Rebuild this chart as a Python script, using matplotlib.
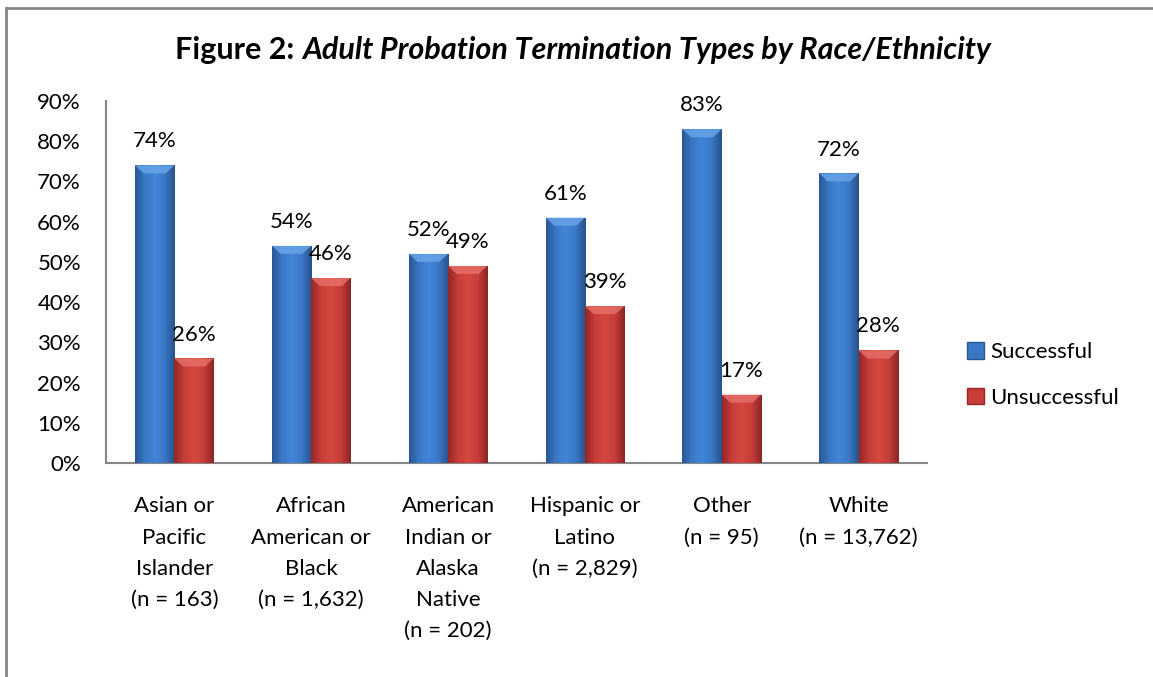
import matplotlib.pyplot as plt
import numpy as np
from matplotlib.patches import Patch, Polygon
from matplotlib.colors import LinearSegmentedColormap

# data
categories = ["Asian or\nPacific\nIslander\n(n = 163)",
              "African\nAmerican or\nBlack\n(n = 1,632)",
              "American\nIndian or\nAlaska\nNative\n(n = 202)",
              "Hispanic or\nLatino\n(n = 2,829)",
              "Other\n(n = 95)",
              "White\n(n = 13,762)"]
successful = [74, 54, 52, 61, 83, 72]
unsuccessful = [26, 46, 49, 39, 17, 28]
yticks = [0, 10, 20, 30, 40, 50, 60, 70, 80, 90]

plt.rcParams['font.family'] = ['Lato', 'DejaVu Sans']
FS = 16

W, H = 1153, 677
fig = plt.figure(figsize=(W / 100, H / 100), dpi=100)
ax = fig.add_axes([106 / W, 1 - 463 / H, 821 / W, (463 - 101) / H])

x = np.arange(len(categories))
bw = 0.287

blue_cm = LinearSegmentedColormap.from_list("b", ["#2a5796", "#3a78c6", "#4286d8", "#3a78c6", "#28528c"])
red_cm = LinearSegmentedColormap.from_list("r", ["#962826", "#c63d3a", "#d6483f", "#c63d3a", "#8c2624"])

bars_s = ax.bar(x - bw / 2, successful, bw, color="#3a78c6", zorder=2)
bars_u = ax.bar(x + bw / 2, unsuccessful, bw, color="#c63d3a", zorder=2)

grad = np.linspace(0, 1, 64).reshape(1, -1)
bevel = 2.0  # in data units (percent)
for bars, cm, top in ((bars_s, blue_cm, "#6aa6ea"), (bars_u, red_cm, "#e8706a")):
    for b in bars:
        x0, y0 = b.get_x(), b.get_y()
        bwid, bh = b.get_width(), b.get_height()
        im = ax.imshow(grad, cmap=cm, aspect='auto', zorder=3,
                       extent=[x0, x0 + bwid, y0, y0 + bh])
        im.set_clip_path(b)
        inset = bwid * 0.22
        ax.add_patch(Polygon([(x0, y0 + bh), (x0 + bwid, y0 + bh),
                              (x0 + bwid - inset, y0 + bh - bevel),
                              (x0 + inset, y0 + bh - bevel)],
                             closed=True, facecolor=top, edgecolor='none',
                             alpha=0.8, zorder=4))

for bars, vals in ((bars_s, successful), (bars_u, unsuccessful)):
    for b, v in zip(bars, vals):
        ax.annotate(f"{v}%", (b.get_x() + b.get_width() / 2, v),
                    xytext=(0, 10), textcoords='offset points',
                    ha='center', va='bottom', fontsize=FS, color='black')

ax.set_xlim(-0.5, len(categories) - 0.5)
ax.set_ylim(0, 90)
ax.set_yticks(yticks)
ax.set_yticklabels([f"{t}%" for t in yticks], fontsize=FS)
ax.set_xticks(x)
ax.set_xticklabels(categories, fontsize=FS, linespacing=1.7, va='top')
ax.tick_params(axis='both', length=0)
ax.tick_params(axis='y', pad=18)
ax.tick_params(axis='x', pad=24)
for s in ('top', 'right'):
    ax.spines[s].set_visible(False)
for s in ('left', 'bottom'):
    ax.spines[s].set_color('#868686')
    ax.spines[s].set_linewidth(1.5)

handles = [Patch(facecolor="#3a78c6", edgecolor="#2a5796"),
           Patch(facecolor="#c63d3a", edgecolor="#962826")]
fig.legend(handles, ["Successful", "Unsuccessful"], loc='center left',
           bbox_to_anchor=(967 / W, 1 - 375 / H), frameon=False, fontsize=FS,
           handlelength=0.75, handleheight=0.75, handletextpad=0.3, labelspacing=1.15,
           borderaxespad=0, borderpad=0)

# title with mixed styles
fig.canvas.draw()
r = fig.canvas.get_renderer()
t1 = fig.text(0, 1 - 50 / H, "Figure 2: ", fontsize=22, fontweight='bold', va='center')
t2 = fig.text(0, 1 - 50 / H, "Adult Probation Termination Types by Race/Ethnicity",
              fontsize=22, fontweight='bold', fontstyle='italic', va='center')
w1 = t1.get_window_extent(r).width
w2 = t2.get_window_extent(r).width
start = 583 - (w1 + w2) / 2
t1.set_x(start / W)
t2.set_x((start + w1) / W)

# frame (top and left only)
fig.add_artist(plt.Line2D([6 / W, 1], [1 - 8 / H, 1 - 8 / H], color='#868686', lw=2))
fig.add_artist(plt.Line2D([6 / W, 6 / W], [0, 1 - 8 / H], color='#868686', lw=2))

fig.savefig("out.png", dpi=100)
